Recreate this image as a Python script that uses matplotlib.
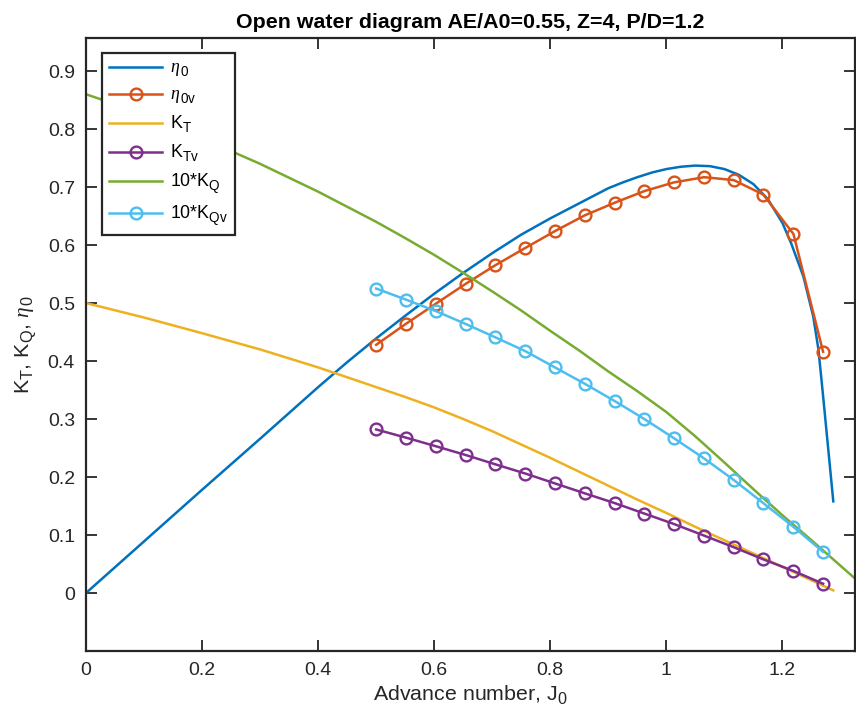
import numpy as np
import matplotlib
matplotlib.use("Agg")
import matplotlib.pyplot as plt

try:
    import matplotlib._mathtext as _mt
    _mt.SHRINK_FACTOR = 0.76
    _mt.FontConstantsBase.sub1 = 0.45
    _mt.FontConstantsBase.sub2 = 0.6
except Exception:
    pass

plt.rcParams['font.family'] = ['Liberation Sans', 'DejaVu Sans']
plt.rcParams['mathtext.fontset'] = 'custom'
plt.rcParams['mathtext.rm'] = 'Liberation Sans'
plt.rcParams['mathtext.it'] = 'Liberation Serif:italic'
plt.rcParams['mathtext.sf'] = 'Liberation Sans'

# ---- data ----
J_eta = [0.0, 0.1, 0.2, 0.3, 0.4, 0.45, 0.5, 0.55, 0.6, 0.65, 0.7, 0.75, 0.8,
         0.85, 0.9, 0.925, 0.95, 0.975, 1.0, 1.025, 1.05, 1.075, 1.1, 1.125,
         1.15, 1.175, 1.2, 1.215, 1.236, 1.253, 1.262, 1.27, 1.279, 1.2876]
eta0 = [0.0, 0.089, 0.178, 0.266, 0.355, 0.398, 0.439, 0.478, 0.516, 0.552,
        0.586, 0.618, 0.646, 0.672, 0.698, 0.708, 0.717, 0.725, 0.731, 0.735,
        0.737, 0.736, 0.731, 0.721, 0.705, 0.679, 0.638, 0.603, 0.546, 0.477,
        0.420, 0.340, 0.247, 0.158]

J_kt = [0.0, 0.1, 0.2, 0.3, 0.4, 0.5, 0.55, 0.6, 0.65, 0.7, 0.75, 0.8, 0.85,
        0.9, 0.95, 1.0, 1.05, 1.1, 1.15, 1.2, 1.25, 1.2876]
KT = [0.500, 0.475, 0.448, 0.420, 0.389, 0.355, 0.338, 0.320, 0.300, 0.279,
      0.256, 0.233, 0.209, 0.185, 0.161, 0.138, 0.114, 0.091, 0.068, 0.045,
      0.022, 0.0045]

J_kq = [0.0, 0.05, 0.1, 0.15, 0.2, 0.25, 0.3, 0.35, 0.4, 0.45, 0.5, 0.55, 0.6,
        0.65, 0.7, 0.75, 0.8, 0.85, 0.9, 0.95, 1.0, 1.05, 1.1, 1.15, 1.2,
        1.25, 1.3, 1.325]
KQ10 = [0.860, 0.843, 0.824, 0.805, 0.784, 0.762, 0.740, 0.716, 0.692, 0.666,
        0.640, 0.612, 0.583, 0.552, 0.520, 0.487, 0.452, 0.418, 0.382, 0.348,
        0.312, 0.270, 0.225, 0.179, 0.134, 0.091, 0.047, 0.025]

J_v = [0.500, 0.551, 0.603, 0.654, 0.705, 0.757, 0.808, 0.859, 0.911, 0.962,
       1.013, 1.065, 1.116, 1.167, 1.219, 1.270]
eta0v = [0.428, 0.464, 0.499, 0.533, 0.565, 0.595, 0.624, 0.651, 0.673, 0.693,
         0.708, 0.717, 0.712, 0.687, 0.619, 0.416]
KTv = [0.282, 0.268, 0.253, 0.238, 0.222, 0.206, 0.189, 0.172, 0.155, 0.137,
       0.119, 0.099, 0.079, 0.058, 0.038, 0.016]
KQv10 = [0.525, 0.506, 0.486, 0.464, 0.441, 0.417, 0.389, 0.361, 0.331, 0.300,
         0.267, 0.232, 0.195, 0.155, 0.114, 0.071]

xticks = [0, 0.2, 0.4, 0.6, 0.8, 1, 1.2]
xticklabels = ['0', '0.2', '0.4', '0.6', '0.8', '1', '1.2']
yticks = [0, 0.1, 0.2, 0.3, 0.4, 0.5, 0.6, 0.7, 0.8, 0.9]
yticklabels = ['0', '0.1', '0.2', '0.3', '0.4', '0.5', '0.6', '0.7', '0.8', '0.9']

c_blue = '#0072BD'
c_orange = '#D95319'
c_yellow = '#EDB120'
c_purple = '#7E2F8E'
c_green = '#77AC30'
c_cyan = '#4DBEEE'

fig = plt.figure(figsize=(8.56, 7.21), dpi=100)
ax = fig.add_axes([86 / 856, 70 / 721, (855 - 86) / 856, (651 - 38) / 721])

lw = 1.8
mk = dict(marker='o', markersize=8.5, markerfacecolor='none', markeredgewidth=1.7)

ax.plot(J_eta, eta0, color=c_blue, lw=lw, label=r'$\eta_{\,\mathrm{0}}$')
ax.plot(J_v, eta0v, color=c_orange, lw=lw, label=r'$\eta_{\,\mathrm{0v}}$', **mk)
ax.plot(J_kt, KT, color=c_yellow, lw=lw, label=r'K$_\mathrm{T}$')
ax.plot(J_v, KTv, color=c_purple, lw=lw, label=r'K$_\mathrm{Tv}$', **mk)
ax.plot(J_kq, KQ10, color=c_green, lw=lw, label=r'10*K$_\mathrm{Q}$')
ax.plot(J_v, KQv10, color=c_cyan, lw=lw, label=r'10*K$_\mathrm{Qv}$', **mk)

ax.set_xlim(0, 1.325)
ax.set_ylim(-0.1, 0.957)
ax.set_xticks(xticks)
ax.set_xticklabels(xticklabels)
ax.set_yticks(yticks)
ax.set_yticklabels(yticklabels)

ax.tick_params(direction='in', length=8, width=1.3, colors='#262626',
               labelsize=14, top=True, right=True, pad=8)
for s in ax.spines.values():
    s.set_color('#262626')
    s.set_linewidth(1.6)

ax.set_title('Open water diagram AE/A0=0.55, Z=4, P/D=1.2',
             fontsize=15.4, fontweight='bold', pad=7)
ax.set_xlabel(r'Advance number, J$_\mathrm{0}$', fontsize=15.4, color='#262626',
              labelpad=3)
ax.set_ylabel(r'K$_\mathrm{T}$, K$_\mathrm{Q}$, $\eta_{\,\mathrm{0}}$', fontsize=15.4,
              color='#262626', labelpad=6)

leg = ax.legend(loc='upper left', bbox_to_anchor=(16 / 769, 1 - 15 / 613),
                fontsize=12.8, frameon=True, fancybox=False, handlelength=3.0,
                borderaxespad=0, labelspacing=0.45, handletextpad=0.45,
                borderpad=0.4)
leg.get_frame().set_edgecolor('#262626')
leg.get_frame().set_linewidth(1.6)
leg.get_frame().set_alpha(1)

fig.savefig('out.png', dpi=100)
